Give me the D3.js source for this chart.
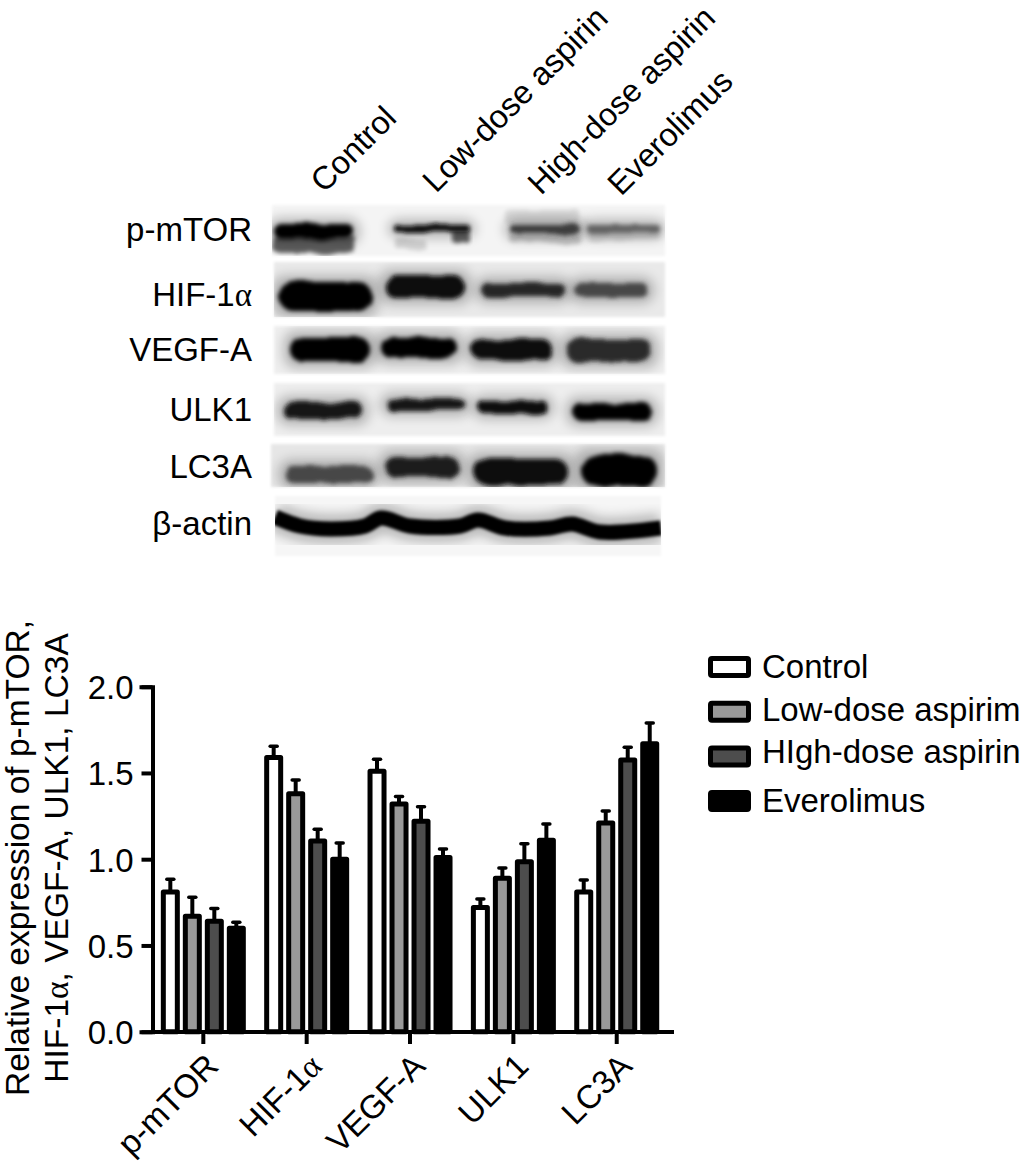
<!DOCTYPE html>
<html>
<head>
<meta charset="utf-8">
<script src="https://d3js.org/d3.v7.min.js"></script>
<style>
  html, body { margin: 0; padding: 0; background: #fff; }
  text { font-family: "Liberation Sans", Arial, sans-serif; fill: #000; }
</style>
</head>
<body>
<div id="my_dataviz"></div>
<script>
// chart values
var categories = ["p-mTOR", "HIF-1", "VEGF-A", "ULK1", "LC3A"];
var seriesNames = ["Control", "Low-dose aspirin", "High-dose aspirin", "Everolimus"];
var legendNames = ["Control", "Low-dose aspirim", "HIgh-dose aspirin", "Everolimus"];
var control = [0.81, 1.59, 1.51, 0.72, 0.81];
var lowDose = [0.67, 1.38, 1.32, 0.89, 1.21];
var highDose = [0.64, 1.105, 1.22, 0.985, 1.575];
var everolimus = [0.60, 1.00, 1.01, 1.11, 1.67];
var controlErr = [0.08, 0.07, 0.075, 0.055, 0.075];
var lowDoseErr = [0.115, 0.085, 0.05, 0.065, 0.075];
var highDoseErr = [0.08, 0.075, 0.09, 0.11, 0.08];
var everolimusErr = [0.04, 0.10, 0.055, 0.10, 0.125];
var yTicks = [0, 0.5, 1, 1.5, 2];

// blot: band darkness per lane
var blotRows = ["p-mTOR", "HIF-1", "VEGF-A", "ULK1", "LC3A", "\u03b2-actin"];
var pmtorDensity = [1, 0.95, 0.72, 0.55];
var hifDensity = [1, 0.97, 0.82, 0.68];
var vegfDensity = [1, 0.98, 0.95, 0.8];
var ulkDensity = [0.92, 0.92, 0.97, 1];
var lc3Density = [0.68, 0.86, 0.94, 1];
var actinDensity = [1];

var width = 1021, height = 1162;
var fs = 33;
var fills = ["#ffffff", "#999999", "#4d4d4d", "#000000"];
var allValues = [control, lowDose, highDose, everolimus];
var allErrs = [controlErr, lowDoseErr, highDoseErr, everolimusErr];
var allDensity = [pmtorDensity, hifDensity, vegfDensity, ulkDensity, lc3Density, actinDensity];

var svg = d3.select("#my_dataviz")
  .append("svg")
  .attr("width", width)
  .attr("height", height)
  .style("display", "block");

var defs = svg.append("defs");
[1.5, 6].forEach(function (s) {
  defs.append("filter").attr("id", "blur" + String(s).replace(".", "_"))
    .attr("x", "-20%").attr("y", "-80%").attr("width", "140%").attr("height", "260%")
    .append("feGaussianBlur").attr("stdDeviation", s);
});
// rough edges for the film bands
var rough = defs.append("filter").attr("id", "rough")
  .attr("x", "-15%").attr("y", "-60%").attr("width", "130%").attr("height", "220%");
rough.append("feTurbulence").attr("type", "fractalNoise")
  .attr("baseFrequency", 0.035).attr("numOctaves", 2).attr("seed", 4).attr("result", "n");
rough.append("feDisplacementMap").attr("in", "SourceGraphic").attr("in2", "n")
  .attr("scale", 7).attr("result", "d");
rough.append("feGaussianBlur").attr("in", "d").attr("stdDeviation", 2);

// ---- blot panels, placed by eye
var panels = [
  { x0: 272, x1: 665, y0: 205, y1: 256, bg: "#f4f4f4",
    labelY: 241,
    bands: [[274, 354, 224, 239], [394, 470, 225, 232], [510, 580, 224, 234], [587, 660, 225, 233]],
    smears: [[274, 356, 236, 253, 0.6], [394, 425, 238, 248, 0.14], [452, 470, 230, 243, 0.6], [510, 580, 234, 243, 0.18], [587, 660, 232, 240, 0.12], [505, 580, 210, 224, 0.1]] },
  { x0: 274, x1: 665, y0: 262, y1: 317, bg: "#e9e9e9",
    labelY: 306,
    bands: [[279, 372, 282, 311], [385, 465, 276, 298], [481, 565, 283, 297], [575, 648, 283, 297]], smears: [] },
  { x0: 274, x1: 665, y0: 326, y1: 374, bg: "#eeeeee",
    labelY: 361,
    bands: [[290, 370, 337, 362], [381, 457, 337, 358], [472, 552, 339, 360], [566, 652, 339, 362]], smears: [] },
  { x0: 274, x1: 665, y0: 383, y1: 436, bg: "#eeeeee",
    labelY: 421,
    bands: [[283, 363, 402, 419], [386, 465, 399, 410], [478, 548, 401, 413], [572, 652, 403, 420]], smears: [] },
  { x0: 271, x1: 665, y0: 444, y1: 487, bg: "#e6e6e6",
    labelY: 478,
    bands: [[285, 372, 466, 483], [385, 459, 457, 477], [474, 568, 459, 485], [581, 657, 455, 486]], smears: [] },
  { x0: 275, x1: 661, y0: 496, y1: 556, bg: "#f6f6f6",
    labelY: 535, bands: [], smears: [] }
];
var panelLabelX = 252;

// the actin band runs across all lanes as one wavy strip
var actinTrace = [[275, 517], [300, 526], [330, 529], [365, 526], [381, 518], [410, 526], [460, 526], [478, 520], [505, 528], [550, 528], [572, 524], [600, 532], [661, 528]];

var darkness = d3.scaleLinear().domain([0, 1]).range(["#dcdcdc", "#000000"]);

var blot = svg.append("g").attr("class", "blot");
panels.forEach(function (p, r) {
  defs.append("clipPath").attr("id", "panel" + r)
    .append("rect").attr("x", p.x0).attr("y", p.y0)
    .attr("width", p.x1 - p.x0).attr("height", p.y1 - p.y0);

  blot.append("rect").attr("x", p.x0).attr("y", p.y0)
    .attr("width", p.x1 - p.x0).attr("height", p.y1 - p.y0)
    .attr("fill", p.bg).attr("filter", "url(#blur1_5)");

  var g = blot.append("g").attr("clip-path", "url(#panel" + r + ")");

  // halo first, then the band core
  g.selectAll("rect.halo").data(p.bands).enter().append("rect")
    .attr("class", "halo")
    .attr("x", function (d) { return d[0] - 6; })
    .attr("y", function (d) { return d[2] - 6; })
    .attr("width", function (d) { return d[1] - d[0] + 12; })
    .attr("height", function (d) { return d[3] - d[2] + 12; })
    .attr("rx", 12)
    .attr("fill", "#000").attr("opacity", 0.25)
    .attr("filter", "url(#blur6)");

  g.selectAll("rect.smear").data(p.smears).enter().append("rect")
    .attr("class", "smear")
    .attr("x", function (d) { return d[0]; })
    .attr("y", function (d) { return d[2]; })
    .attr("width", function (d) { return d[1] - d[0]; })
    .attr("height", function (d) { return d[3] - d[2]; })
    .attr("rx", 4)
    .attr("fill", "#000")
    .attr("opacity", function (d) { return d[4]; })
    .attr("filter", "url(#rough)");

  g.selectAll("rect.band").data(p.bands).enter().append("rect")
    .attr("class", "band")
    .attr("x", function (d) { return d[0]; })
    .attr("y", function (d) { return d[2]; })
    .attr("width", function (d) { return d[1] - d[0]; })
    .attr("height", function (d) { return d[3] - d[2]; })
    .attr("rx", function (d) { return (d[3] - d[2]) * 0.5; })
    .attr("fill", function (d, i) { return darkness(allDensity[r][i]); })
    .attr("filter", "url(#rough)");

  if (r === 5) {
    var actinLine = d3.line().curve(d3.curveCatmullRom);
    g.append("path").attr("d", actinLine(actinTrace))
      .attr("fill", "none").attr("stroke", "#000").attr("stroke-opacity", 0.25)
      .attr("stroke-width", 30).attr("filter", "url(#blur6)");
    g.append("path").attr("d", actinLine(actinTrace))
      .attr("fill", "none").attr("stroke", darkness(allDensity[r][0]))
      .attr("stroke-width", 15).attr("filter", "url(#blur1_5)");
  }

  var lab = blot.append("text").attr("x", panelLabelX).attr("y", p.labelY)
    .attr("text-anchor", "end").style("font-size", fs + "px");
  lab.call(greekLabel, blotRows[r]);
});

// HIF-1 gets its alpha in a serif face like the figure
function greekLabel(sel, name) {
  sel.append("tspan").text(name);
  if (name === "HIF-1") {
    sel.append("tspan").text("\u03b1").style("font-family", "'Liberation Serif', serif");
  }
}

// lane names over the blot
var laneAnchors = [[324, 194], [436, 194], [541, 196], [621, 197]];
var laneSizes = [32.5, 32.5, 32, 32.5];
svg.append("g").selectAll("text")
  .data(seriesNames)
  .enter().append("text")
  .attr("transform", function (d, i) {
    return "translate(" + laneAnchors[i] + ") rotate(-45)";
  })
  .style("font-size", function (d, i) { return laneSizes[i] + "px"; })
  .text(function (d) { return d; });

// ---- bar chart
var x0 = d3.scaleBand().domain(categories).range([151.65, 668.4]);
var x1 = d3.scaleBand().domain(seriesNames).range([0, 88]);
var y = d3.scaleLinear().domain([0, 2]).range([1031.7, 686.7]);

var chart = svg.append("g").attr("class", "chart");

var groups = chart.selectAll("g.group")
  .data(categories)
  .enter().append("g")
  .attr("class", "group")
  .attr("transform", function (d) {
    return "translate(" + (x0(d) + x0.bandwidth() / 2 - 44) + ",0)";
  });

seriesNames.forEach(function (name, s) {
  var vals = allValues[s], errs = allErrs[s];
  var bw = x1.bandwidth();

  // error bars sit behind the bar top
  groups.append("line")
    .attr("x1", x1(name) + bw / 2).attr("x2", x1(name) + bw / 2)
    .attr("y1", function (d, i) { return y(vals[i]); })
    .attr("y2", function (d, i) { return y(vals[i] + errs[i]); })
    .attr("stroke", "#000").attr("stroke-width", 4);
  groups.append("line")
    .attr("x1", x1(name) + bw / 2 - 3.5).attr("x2", x1(name) + bw / 2 + 3.5)
    .attr("y1", function (d, i) { return y(vals[i] + errs[i]) + 1; })
    .attr("y2", function (d, i) { return y(vals[i] + errs[i]) + 1; })
    .attr("stroke", "#000").attr("stroke-width", 3.5).attr("stroke-linecap", "round");

  groups.append("rect")
    .attr("x", x1(name) + 4)
    .attr("width", bw - 8)
    .attr("y", function (d, i) { return y(vals[i]); })
    .attr("height", function (d, i) { return y(0) - y(vals[i]); })
    .attr("fill", fills[s])
    .attr("stroke", "#000").attr("stroke-width", 5).attr("stroke-linejoin", "round");
});

var yAxis = d3.axisLeft(y).tickValues(yTicks).tickFormat(d3.format(".1f")).tickSize(11).tickPadding(8);
var gy = chart.append("g").attr("transform", "translate(152.5,0)").call(yAxis);
gy.selectAll("path, line").attr("stroke", "#000").attr("stroke-width", 4);
gy.select("path").attr("stroke-linecap", "square");
gy.selectAll("text").style("font-size", fs + "px").attr("dy", "0.36em");

var xAxis = d3.axisBottom(x0).tickSize(12).tickSizeOuter(0).tickFormat("");
var gx = chart.append("g").attr("transform", "translate(0,1032)").call(xAxis);
gx.selectAll("path, line").attr("stroke", "#000").attr("stroke-width", 4);
gx.select("path").attr("d", "M152,0H674");

gx.selectAll("g.tick").append("text")
  .attr("transform", "translate(17,36) rotate(-45)")
  .attr("text-anchor", "end")
  .style("font-size", fs + "px")
  .each(function (d) { d3.select(this).call(greekLabel, d); });

// y axis title, two lines
var title = chart.append("text")
  .attr("transform", "translate(0,858) rotate(-90)")
  .attr("text-anchor", "middle")
  .style("font-size", "33.5px");
title.append("tspan").attr("x", 0).attr("y", 28.5).text("Relative expression of p-mTOR,");
var t2 = title.append("tspan").attr("x", 0).attr("y", 68);
t2.append("tspan").text("HIF-1");
t2.append("tspan").text("\u03b1").style("font-family", "'Liberation Serif', serif");
t2.append("tspan").text(", VEGF-A, ULK1, LC3A");

// ---- legend
var legendBaselines = [678, 721, 763, 812];
var legend = svg.append("g").attr("class", "legend")
  .selectAll("g")
  .data(legendNames)
  .enter().append("g");

legend.append("rect")
  .attr("x", 710.5)
  .attr("y", function (d, i) { return 658.5 + i * 44.7; })
  .attr("width", 38).attr("height", 17).attr("rx", 1.5)
  .attr("fill", function (d, i) { return fills[i]; })
  .attr("stroke", "#000").attr("stroke-width", 5).attr("stroke-linejoin", "round");

legend.append("text")
  .attr("x", 762)
  .attr("y", function (d, i) { return legendBaselines[i]; })
  .style("font-size", fs + "px")
  .text(function (d) { return d; });
</script>
</body>
</html>
